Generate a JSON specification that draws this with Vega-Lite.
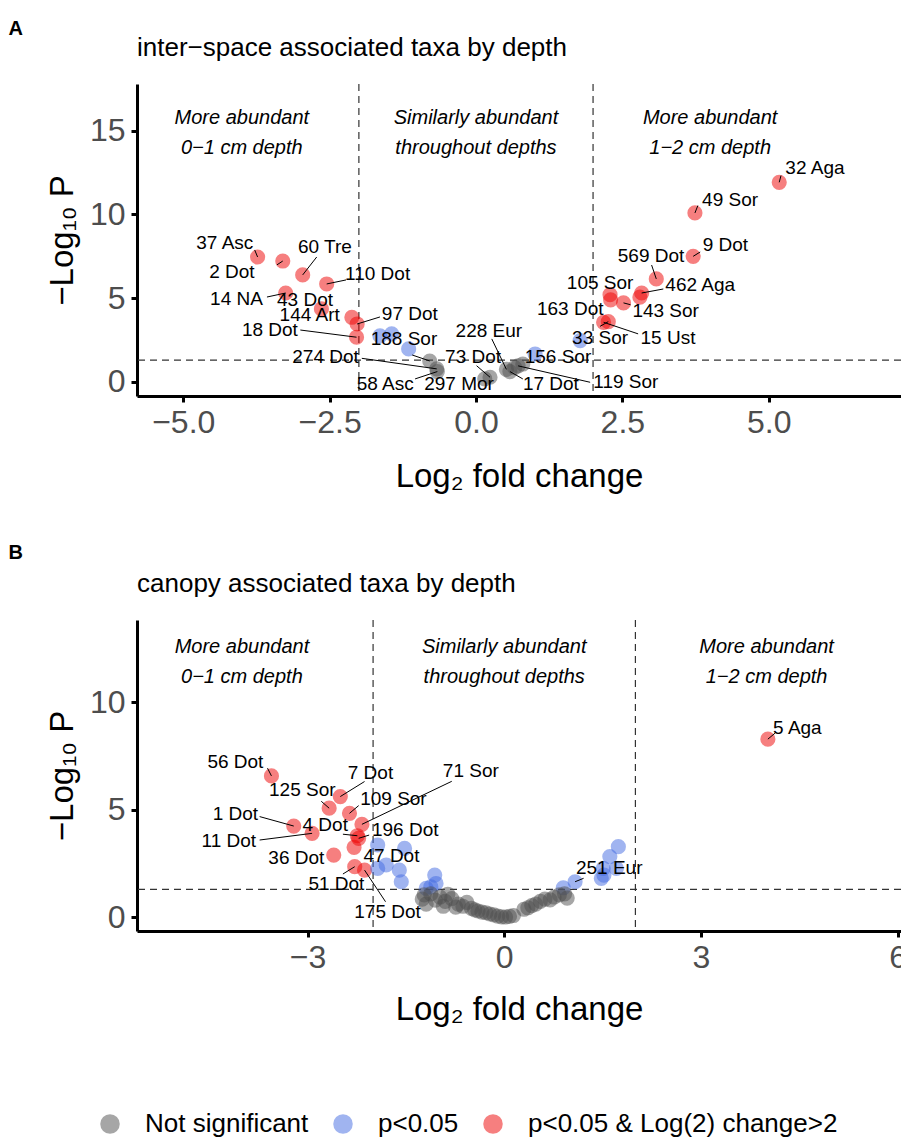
{
  "$schema": "https://vega.github.io/schema/vega-lite/v6.json",
  "background": "white",
  "padding": {"left": 8, "top": 19, "right": 0, "bottom": 0},
  "config": {
    "font": "Liberation Sans",
    "view": {"stroke": null},
    "axis": {"grid": false, "domainColor": "black", "domainWidth": 3, "tickColor": "black", "tickWidth": 3, "tickSize": 6, "labelFontSize": 32, "labelColor": "#4d4d4d", "labelFont": "Liberation Sans", "titleFont": "Liberation Sans", "titleFontSize": 33, "titleFontWeight": "normal", "titleColor": "black"},
    "title": {"font": "Liberation Sans", "color": "black"}
  },
  "datasets": {
    "a": [
      {"x": -3.73, "y": 7.46, "sig": "p<0.05 & Log(2) change>2", "lab": "37 Asc", "lx": -4.29, "ly": 8.3, "sx": -3.78, "sy": 7.88},
      {"x": -3.3, "y": 7.22, "sig": "p<0.05 & Log(2) change>2", "lab": "2 Dot", "lx": -4.17, "ly": 6.57, "sx": -3.4, "sy": 6.99},
      {"x": -2.96, "y": 6.39, "sig": "p<0.05 & Log(2) change>2", "lab": "60 Tre", "lx": -2.58, "ly": 8.06, "sx": -2.72, "sy": 7.46},
      {"x": -2.55, "y": 5.85, "sig": "p<0.05 & Log(2) change>2", "lab": "110 Dot", "lx": -1.68, "ly": 6.45, "sx": -2.22, "sy": 6.09},
      {"x": -3.25, "y": 5.31, "sig": "p<0.05 & Log(2) change>2", "lab": "14 NA", "lx": -4.09, "ly": 4.96, "sx": -3.57, "sy": 5.07},
      {"x": -2.64, "y": 4.36, "sig": "p<0.05 & Log(2) change>2", "lab": "43 Dot", "lx": -2.92, "ly": 4.9},
      {"x": -2.12, "y": 3.86, "sig": "p<0.05 & Log(2) change>2", "lab": "144 Art", "lx": -2.84, "ly": 4.0},
      {"x": -2.03, "y": 3.46, "sig": "p<0.05 & Log(2) change>2", "lab": "97 Dot", "lx": -1.13, "ly": 4.06, "sx": -1.64, "sy": 3.88},
      {"x": -2.04, "y": 2.67, "sig": "p<0.05 & Log(2) change>2", "lab": "18 Dot", "lx": -3.52, "ly": 3.1, "sx": -3.0, "sy": 3.1},
      {"x": -1.64, "y": 2.75, "sig": "p<0.05"},
      {"x": -1.44, "y": 2.87, "sig": "p<0.05"},
      {"x": -1.15, "y": 1.97, "sig": "p<0.05"},
      {"x": -0.79, "y": 1.25, "sig": "Not significant", "lab": "188 Sor", "lx": -1.23, "ly": 2.57, "sx": -1.09, "sy": 1.61},
      {"x": -0.67, "y": 0.78, "sig": "Not significant", "lab": "274 Dot", "lx": -2.57, "ly": 1.47, "sx": -1.95, "sy": 1.41},
      {"x": -0.66, "y": 0.62, "sig": "Not significant", "lab": "58 Asc", "lx": -1.55, "ly": -0.12, "sx": -1.04, "sy": 0.18},
      {"x": 0.15, "y": 0.18, "sig": "Not significant", "lab": "297 Mor", "lx": -0.29, "ly": -0.12},
      {"x": 0.24, "y": 0.28, "sig": "Not significant", "lab": "73 Dot", "lx": -0.05, "ly": 1.47, "sx": 0.01, "sy": 0.97},
      {"x": 0.52, "y": 0.75, "sig": "Not significant", "lab": "228 Eur", "lx": 0.22, "ly": 3.06, "sx": 0.27, "sy": 2.57},
      {"x": 0.58, "y": 0.62, "sig": "Not significant", "lab": "17 Dot", "lx": 1.28, "ly": -0.12, "sx": 0.8, "sy": 0.18},
      {"x": 0.72, "y": 0.96, "sig": "Not significant", "lab": "119 Sor", "lx": 2.56, "ly": -0.02, "sx": 1.95, "sy": -0.02},
      {"x": 0.8, "y": 1.07, "sig": "Not significant"},
      {"x": 0.66, "y": 0.85, "sig": "Not significant"},
      {"x": 1.01, "y": 1.67, "sig": "p<0.05", "lab": "156 Sor", "lx": 1.4, "ly": 1.47},
      {"x": 1.78, "y": 2.47, "sig": "p<0.05"},
      {"x": 5.18, "y": 11.92, "sig": "p<0.05 & Log(2) change>2", "lab": "32 Aga", "lx": 5.79, "ly": 12.76, "sx": 5.21, "sy": 12.32},
      {"x": 3.74, "y": 10.09, "sig": "p<0.05 & Log(2) change>2", "lab": "49 Sor", "lx": 4.34, "ly": 10.87, "sx": 3.79, "sy": 10.53},
      {"x": 3.71, "y": 7.5, "sig": "p<0.05 & Log(2) change>2", "lab": "9 Dot", "lx": 4.26, "ly": 8.18, "sx": 3.83, "sy": 7.76},
      {"x": 3.08, "y": 6.15, "sig": "p<0.05 & Log(2) change>2", "lab": "569 Dot", "lx": 2.99, "ly": 7.54, "sx": 3.0, "sy": 6.98},
      {"x": 2.83, "y": 5.31, "sig": "p<0.05 & Log(2) change>2", "lab": "462 Aga", "lx": 3.83, "ly": 5.81, "sx": 3.2, "sy": 5.55},
      {"x": 2.8, "y": 5.06, "sig": "p<0.05 & Log(2) change>2"},
      {"x": 2.52, "y": 4.72, "sig": "p<0.05 & Log(2) change>2", "lab": "143 Sor", "lx": 3.24, "ly": 4.26, "sx": 2.64, "sy": 4.61},
      {"x": 2.29, "y": 5.21, "sig": "p<0.05 & Log(2) change>2", "lab": "105 Sor", "lx": 2.12, "ly": 5.91},
      {"x": 2.26, "y": 3.6, "sig": "p<0.05 & Log(2) change>2", "lab": "33 Sor", "lx": 2.12, "ly": 2.63, "sx": 2.12, "sy": 3.32},
      {"x": 2.18, "y": 3.56, "sig": "p<0.05 & Log(2) change>2", "lab": "15 Ust", "lx": 3.28, "ly": 2.63, "sx": 2.77, "sy": 2.87},
      {"x": 2.3, "y": 4.9, "sig": "p<0.05 & Log(2) change>2", "lab": "163 Dot", "lx": 1.61, "ly": 4.36}
    ],
    "b": [
      {"x": -3.55, "y": 6.58, "sig": "p<0.05 & Log(2) change>2", "lab": "56 Dot", "lx": -4.1, "ly": 7.25, "sx": -3.61, "sy": 6.94},
      {"x": -2.67, "y": 5.08, "sig": "p<0.05 & Log(2) change>2", "lab": "125 Sor", "lx": -3.08, "ly": 5.93, "sx": -2.79, "sy": 5.4},
      {"x": -2.5, "y": 5.62, "sig": "p<0.05 & Log(2) change>2", "lab": "7 Dot", "lx": -2.04, "ly": 6.71, "sx": -2.13, "sy": 6.32},
      {"x": -2.36, "y": 4.84, "sig": "p<0.05 & Log(2) change>2", "lab": "109 Sor", "lx": -1.69, "ly": 5.5, "sx": -2.22, "sy": 5.2},
      {"x": -2.17, "y": 4.33, "sig": "p<0.05 & Log(2) change>2", "lab": "71 Sor", "lx": -0.51, "ly": 6.8, "sx": -0.8, "sy": 6.33},
      {"x": -3.21, "y": 4.25, "sig": "p<0.05 & Log(2) change>2", "lab": "1 Dot", "lx": -4.1, "ly": 4.8, "sx": -3.73, "sy": 4.69},
      {"x": -2.93, "y": 3.91, "sig": "p<0.05 & Log(2) change>2", "lab": "11 Dot", "lx": -4.2, "ly": 3.57, "sx": -3.73, "sy": 3.6},
      {"x": -2.24, "y": 3.8, "sig": "p<0.05 & Log(2) change>2", "lab": "4 Dot", "lx": -2.73, "ly": 4.3, "sx": -2.46, "sy": 3.87},
      {"x": -2.22, "y": 3.68, "sig": "p<0.05 & Log(2) change>2", "lab": "196 Dot", "lx": -1.51, "ly": 4.07, "sx": -2.06, "sy": 3.83},
      {"x": -2.29, "y": 3.26, "sig": "p<0.05 & Log(2) change>2", "lab": "47 Dot", "lx": -1.72, "ly": 2.86},
      {"x": -2.6, "y": 2.9, "sig": "p<0.05 & Log(2) change>2", "lab": "36 Dot", "lx": -3.17, "ly": 2.75},
      {"x": -2.28, "y": 2.36, "sig": "p<0.05 & Log(2) change>2", "lab": "51 Dot", "lx": -2.56, "ly": 1.55, "sx": -2.46, "sy": 2.02},
      {"x": -2.13, "y": 2.2, "sig": "p<0.05 & Log(2) change>2", "lab": "175 Dot", "lx": -1.78, "ly": 0.26, "sx": -1.81, "sy": 0.73},
      {"x": 4.02, "y": 8.29, "sig": "p<0.05 & Log(2) change>2", "lab": "5 Aga", "lx": 4.47, "ly": 8.8, "sx": 4.13, "sy": 8.57},
      {"x": -1.93, "y": 3.37, "sig": "p<0.05"},
      {"x": -1.52, "y": 3.21, "sig": "p<0.05"},
      {"x": -1.8, "y": 2.44, "sig": "p<0.05"},
      {"x": -1.93, "y": 2.28, "sig": "p<0.05"},
      {"x": -1.6, "y": 2.2, "sig": "p<0.05"},
      {"x": -1.57, "y": 1.66, "sig": "p<0.05"},
      {"x": -1.06, "y": 1.97, "sig": "p<0.05"},
      {"x": -1.04, "y": 1.58, "sig": "p<0.05"},
      {"x": -1.19, "y": 1.35, "sig": "p<0.05"},
      {"x": -1.12, "y": 1.42, "sig": "p<0.05"},
      {"x": 0.9, "y": 1.38, "sig": "p<0.05"},
      {"x": 1.08, "y": 1.66, "sig": "p<0.05", "lab": "251 Eur", "lx": 1.6, "ly": 2.28, "sx": 1.21, "sy": 1.82},
      {"x": 1.48, "y": 1.82, "sig": "p<0.05"},
      {"x": 1.51, "y": 2.28, "sig": "p<0.05"},
      {"x": 1.52, "y": 1.97, "sig": "p<0.05"},
      {"x": 1.61, "y": 2.83, "sig": "p<0.05"},
      {"x": 1.71, "y": 2.28, "sig": "p<0.05"},
      {"x": 1.74, "y": 3.29, "sig": "p<0.05"},
      {"x": -1.25, "y": 0.85, "sig": "Not significant"},
      {"x": -1.22, "y": 1.05, "sig": "Not significant"},
      {"x": -1.19, "y": 0.62, "sig": "Not significant"},
      {"x": -1.12, "y": 1.1, "sig": "Not significant"},
      {"x": -1.05, "y": 0.8, "sig": "Not significant"},
      {"x": -0.98, "y": 0.95, "sig": "Not significant"},
      {"x": -0.93, "y": 0.52, "sig": "Not significant"},
      {"x": -0.9, "y": 0.75, "sig": "Not significant"},
      {"x": -0.86, "y": 1.08, "sig": "Not significant"},
      {"x": -0.8, "y": 0.88, "sig": "Not significant"},
      {"x": -0.74, "y": 0.48, "sig": "Not significant"},
      {"x": -0.7, "y": 0.62, "sig": "Not significant"},
      {"x": -0.63, "y": 0.52, "sig": "Not significant"},
      {"x": -0.57, "y": 0.7, "sig": "Not significant"},
      {"x": -0.5, "y": 0.42, "sig": "Not significant"},
      {"x": -0.45, "y": 0.35, "sig": "Not significant"},
      {"x": -0.4, "y": 0.3, "sig": "Not significant"},
      {"x": -0.34, "y": 0.25, "sig": "Not significant"},
      {"x": -0.28, "y": 0.22, "sig": "Not significant"},
      {"x": -0.22, "y": 0.16, "sig": "Not significant"},
      {"x": -0.16, "y": 0.12, "sig": "Not significant"},
      {"x": -0.1, "y": 0.06, "sig": "Not significant"},
      {"x": -0.04, "y": 0.03, "sig": "Not significant"},
      {"x": 0.02, "y": 0.02, "sig": "Not significant"},
      {"x": 0.08, "y": 0.05, "sig": "Not significant"},
      {"x": 0.14, "y": 0.09, "sig": "Not significant"},
      {"x": 0.3, "y": 0.38, "sig": "Not significant"},
      {"x": 0.36, "y": 0.45, "sig": "Not significant"},
      {"x": 0.42, "y": 0.55, "sig": "Not significant"},
      {"x": 0.48, "y": 0.62, "sig": "Not significant"},
      {"x": 0.55, "y": 0.75, "sig": "Not significant"},
      {"x": 0.62, "y": 0.85, "sig": "Not significant"},
      {"x": 0.7, "y": 0.82, "sig": "Not significant"},
      {"x": 0.76, "y": 0.95, "sig": "Not significant"},
      {"x": 0.84, "y": 1.05, "sig": "Not significant"},
      {"x": 0.92, "y": 1.1, "sig": "Not significant"},
      {"x": 0.96, "y": 0.9, "sig": "Not significant"}
    ]
  },
  "spacing": 50,
  "vconcat": [
    {
      "title": {"text": "A", "anchor": "start", "frame": "bounds", "dx": -38, "fontSize": 20, "fontWeight": "bold", "offset": -4},
      "vconcat": [
        {
          "width": 764,
          "height": 312,
          "title": {"text": "inter−space associated taxa by depth", "anchor": "start", "frame": "group", "fontSize": 26, "fontWeight": "normal", "offset": 22},
          "layer": [
            {
              "data": {"values": [{"v": -2}, {"v": 2}]},
              "mark": {"type": "rule", "strokeDash": [7, 5], "color": "#333333", "strokeWidth": 1.2},
              "encoding": {"x": {"field": "v", "type": "quantitative", "title": "Log₂ fold change", "scale": {"domain": [-5.79, 7.26], "nice": false, "zero": false}}}
            },
            {
              "data": {"values": [{"h": 1.30103}]},
              "mark": {"type": "rule", "strokeDash": [7, 5], "color": "#333333", "strokeWidth": 1.2},
              "encoding": {"y": {"field": "h", "type": "quantitative", "title": "−Log₁₀ P", "scale": {"domain": [-0.84, 17.79], "nice": false, "zero": false}}}
            },
            {
              "data": {"values": [
                {"ax": -4, "ay": 15.76, "t": "More abundant\n0−1 cm depth"},
                {"ax": 0, "ay": 15.76, "t": "Similarly abundant\nthroughout depths"},
                {"ax": 4, "ay": 15.76, "t": "More abundant\n1−2 cm depth"}
              ]},
              "mark": {"type": "text", "fontStyle": "italic", "fontSize": 20, "lineBreak": "\n", "lineHeight": 30, "color": "black", "align": "center", "baseline": "middle"},
              "encoding": {
                "x": {"field": "ax", "type": "quantitative", "title": "Log₂ fold change", "scale": {"domain": [-5.79, 7.26], "nice": false, "zero": false}},
                "y": {"field": "ay", "type": "quantitative", "title": "−Log₁₀ P", "scale": {"domain": [-0.84, 17.79], "nice": false, "zero": false}},
                "text": {"field": "t"}
              }
            },
            {
              "data": {"name": "a"},
              "mark": {"type": "circle", "size": 230, "opacity": 0.5},
              "encoding": {
                "x": {"field": "x", "type": "quantitative", "title": "Log₂ fold change", "scale": {"domain": [-5.79, 7.26], "nice": false, "zero": false}, "axis": {"values": [-5, -2.5, 0, 2.5, 5], "format": ".1f", "labelPadding": 5, "titlePadding": 22}},
                "y": {"field": "y", "type": "quantitative", "title": "−Log₁₀ P", "scale": {"domain": [-0.84, 17.79], "nice": false, "zero": false}, "axis": {"values": [0, 5, 10, 15], "labelPadding": 6, "titlePadding": 10}},
                "color": {"field": "sig", "type": "nominal", "scale": {"domain": ["Not significant", "p<0.05", "p<0.05 & Log(2) change>2"], "range": ["#4d4d4d", "#4169e1", "#ee0000"]},
                  "legend": {"title": null, "orient": "none", "legendX": -40, "legendY": 1027, "direction": "horizontal", "gridAlign": "none", "symbolType": "circle", "symbolSize": 380, "symbolOpacity": 0.5, "symbolStrokeWidth": 0, "labelFontSize": 26, "labelColor": "black", "labelFont": "Liberation Sans", "labelOffset": 22, "columnPadding": 21, "labelLimit": 0}}
              }
            },
            {
              "data": {"name": "a"},
              "transform": [{"filter": "datum.sx != null"}],
              "mark": {"type": "rule", "color": "black", "strokeWidth": 1},
              "encoding": {
                "x": {"field": "x", "type": "quantitative", "title": "Log₂ fold change"},
                "y": {"field": "y", "type": "quantitative", "title": "−Log₁₀ P"},
                "x2": {"field": "sx"},
                "y2": {"field": "sy"}
              }
            },
            {
              "data": {"name": "a"},
              "transform": [{"filter": "datum.lab != null"}],
              "mark": {"type": "text", "fontSize": 19, "color": "black", "align": "center", "baseline": "middle"},
              "encoding": {
                "x": {"field": "lx", "type": "quantitative", "title": "Log₂ fold change"},
                "y": {"field": "ly", "type": "quantitative", "title": "−Log₁₀ P"},
                "text": {"field": "lab"}
              }
            }
          ]
        }
      ]
    },
    {
      "title": {"text": "B", "anchor": "start", "frame": "bounds", "dx": -38, "fontSize": 20, "fontWeight": "bold", "offset": 8},
      "vconcat": [
        {
          "width": 764,
          "height": 311,
          "title": {"text": "canopy associated taxa by depth", "anchor": "start", "frame": "group", "fontSize": 26, "fontWeight": "normal", "offset": 22},
          "layer": [
            {
              "data": {"values": [{"v": -2}, {"v": 2}]},
              "mark": {"type": "rule", "strokeDash": [7, 5], "color": "#333333", "strokeWidth": 1.2},
              "encoding": {"x": {"field": "v", "type": "quantitative", "title": "Log₂ fold change", "scale": {"domain": [-5.6, 6.05], "nice": false, "zero": false}}}
            },
            {
              "data": {"values": [{"h": 1.30103}]},
              "mark": {"type": "rule", "strokeDash": [7, 5], "color": "#333333", "strokeWidth": 1.2},
              "encoding": {"y": {"field": "h", "type": "quantitative", "title": "−Log₁₀ P", "scale": {"domain": [-0.63, 13.83], "nice": false, "zero": false}}}
            },
            {
              "data": {"values": [
                {"ax": -4, "ay": 12.57, "t": "More abundant\n0−1 cm depth"},
                {"ax": 0, "ay": 12.57, "t": "Similarly abundant\nthroughout depths"},
                {"ax": 4, "ay": 12.57, "t": "More abundant\n1−2 cm depth"}
              ]},
              "mark": {"type": "text", "fontStyle": "italic", "fontSize": 20, "lineBreak": "\n", "lineHeight": 30, "color": "black", "align": "center", "baseline": "middle"},
              "encoding": {
                "x": {"field": "ax", "type": "quantitative", "title": "Log₂ fold change", "scale": {"domain": [-5.6, 6.05], "nice": false, "zero": false}},
                "y": {"field": "ay", "type": "quantitative", "title": "−Log₁₀ P", "scale": {"domain": [-0.63, 13.83], "nice": false, "zero": false}},
                "text": {"field": "t"}
              }
            },
            {
              "data": {"name": "b"},
              "mark": {"type": "circle", "size": 230, "opacity": 0.5},
              "encoding": {
                "x": {"field": "x", "type": "quantitative", "title": "Log₂ fold change", "scale": {"domain": [-5.6, 6.05], "nice": false, "zero": false}, "axis": {"values": [-3, 0, 3, 6], "format": "d", "labelPadding": 5, "titlePadding": 20}},
                "y": {"field": "y", "type": "quantitative", "title": "−Log₁₀ P", "scale": {"domain": [-0.63, 13.83], "nice": false, "zero": false}, "axis": {"values": [0, 5, 10], "labelPadding": 6, "titlePadding": 10}},
                "color": {"field": "sig", "type": "nominal", "scale": {"domain": ["Not significant", "p<0.05", "p<0.05 & Log(2) change>2"], "range": ["#4d4d4d", "#4169e1", "#ee0000"]},
                  "legend": {"title": null, "orient": "none", "legendX": -40, "legendY": 1027, "direction": "horizontal", "gridAlign": "none", "symbolType": "circle", "symbolSize": 380, "symbolOpacity": 0.5, "symbolStrokeWidth": 0, "labelFontSize": 26, "labelColor": "black", "labelFont": "Liberation Sans", "labelOffset": 22, "columnPadding": 21, "labelLimit": 0}}
              }
            },
            {
              "data": {"name": "b"},
              "transform": [{"filter": "datum.sx != null"}],
              "mark": {"type": "rule", "color": "black", "strokeWidth": 1},
              "encoding": {
                "x": {"field": "x", "type": "quantitative", "title": "Log₂ fold change"},
                "y": {"field": "y", "type": "quantitative", "title": "−Log₁₀ P"},
                "x2": {"field": "sx"},
                "y2": {"field": "sy"}
              }
            },
            {
              "data": {"name": "b"},
              "transform": [{"filter": "datum.lab != null"}],
              "mark": {"type": "text", "fontSize": 19, "color": "black", "align": "center", "baseline": "middle"},
              "encoding": {
                "x": {"field": "lx", "type": "quantitative", "title": "Log₂ fold change"},
                "y": {"field": "ly", "type": "quantitative", "title": "−Log₁₀ P"},
                "text": {"field": "lab"}
              }
            }
          ]
        }
      ]
    }
  ]
}
